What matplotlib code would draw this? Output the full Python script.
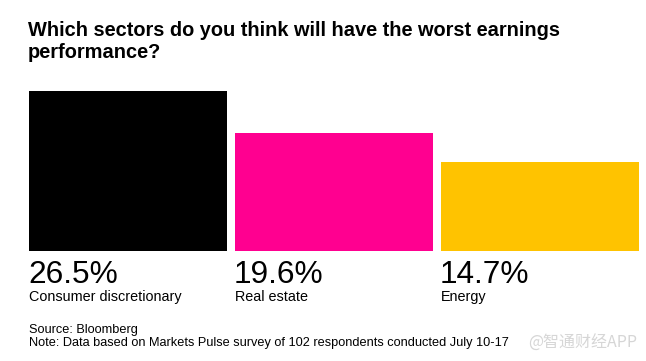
import matplotlib.pyplot as plt

# data
sectors = ["Consumer discretionary", "Real estate", "Energy"]
shares = [26.5, 19.6, 14.7]
colors = ["#000000", "#ff0090", "#ffc300"]

title_lines = ["Which sectors do you think will have the worst earnings", "performance?"]
source = "Source: Bloomberg"
note = "Note: Data based on Markets Pulse survey of 102 respondents conducted July 10-17"

W, H = 646, 361
fig = plt.figure(figsize=(W / 100, H / 100), dpi=100)

# axes placed in pixel terms: bars from x=29 to 639, baseline y=251, top of tallest y=91
ax = fig.add_axes([29 / W, 1 - 251 / H, 610 / W, 160 / H])
x = list(range(len(sectors)))
bar_w = 198 / 206
ax.bar(x, shares, width=bar_w, color=colors)
ax.set_xlim(-bar_w / 2, len(sectors) - 1 + bar_w / 2)
ax.set_ylim(0, max(shares))
ax.axis("off")

font = "Liberation Sans"

def px(y):
    return 1 - y / H

# title, two lines placed on their baselines
for line, base in zip(title_lines, [36, 58]):
    fig.text(28 / W, px(base), line, ha="left", va="baseline", fontsize=14.4,
             fontweight="bold", family=font)

for i, (name, val) in enumerate(zip(sectors, shares)):
    left = (29 + i * 206) / W
    fig.text(left - 1 / W, px(283), f"{val}%", ha="left", va="baseline",
             fontsize=22.8, family=font, color="black")
    fig.text(left, px(301), name, ha="left", va="baseline",
             fontsize=10.4, family=font, color="black")

fig.text(29 / W, px(333), source, ha="left", va="baseline", fontsize=9.2, family=font)
fig.text(29 / W, px(346), note, ha="left", va="baseline", fontsize=9.2, family=font)

fig.text(637 / W, px(348), "@智通财经APP", ha="right", va="baseline", fontsize=11.5,
         color="#d6d6d6", family=["Noto Sans CJK SC", "DejaVu Sans"])

fig.savefig("out.png", dpi=100)
